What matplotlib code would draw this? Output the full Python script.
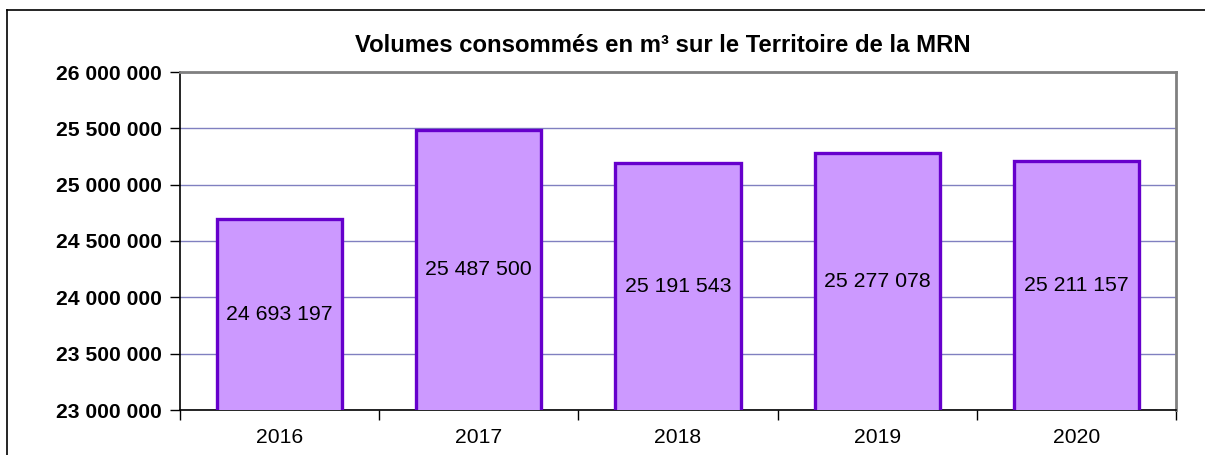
import matplotlib
matplotlib.use("Agg")
import matplotlib.pyplot as plt
from matplotlib.ticker import FuncFormatter, FixedLocator
from matplotlib.lines import Line2D

years = ["2016", "2017", "2018", "2019", "2020"]
volumes = [24693197, 25487500, 25191543, 25277078, 25211157]
y_ticks = [23000000, 23500000, 24000000, 24500000, 25000000, 25500000, 26000000]
title = "Volumes consommés en m³ sur le Territoire de la MRN"

plt.rcParams['font.family'] = ['Liberation Sans', 'DejaVu Sans']

W, H = 1205, 455
fig = plt.figure(figsize=(W / 100, H / 100), dpi=100)
ax = fig.add_axes([180 / W, 1 - 410 / H, (1176 - 180) / W, (410 - 72) / H])

def fmt(v):
    return f"{int(round(v)):,}".replace(",", " ")

x = list(range(len(years)))
ax.bar(x, volumes, width=0.628, bottom=0, color="#CC99FF", edgecolor="#6600CC",
       linewidth=2.4, zorder=3)
ax.set_ylim(y_ticks[0], y_ticks[-1])
ax.set_xlim(-0.5, len(years) - 0.5)

for xi, v in zip(x, volumes):
    ax.text(xi, (y_ticks[0] + v) / 2, fmt(v), ha="center", va="center",
            fontsize=15.3, color="black", zorder=4)

ax.set_yticks(y_ticks)
ax.yaxis.set_major_formatter(FuncFormatter(lambda v, p: fmt(v)))
for lbl in ax.get_yticklabels():
    lbl.set_fontweight("bold")
ax.tick_params(axis="y", labelsize=15.2, length=7, width=1, direction="out", pad=6)
ax.grid(axis="y", color="#8080C0", linewidth=1, zorder=1)

ax.set_xticks(x)
ax.set_xticklabels(years, fontsize=15.2)
ax.tick_params(axis="x", length=0, pad=13)
ax.xaxis.set_minor_locator(FixedLocator([i - 0.5 for i in range(len(years) + 1)]))
ax.tick_params(axis="x", which="minor", length=7, width=1, direction="out")

ax.spines["left"].set_color("black")
ax.spines["bottom"].set_color("black")
ax.spines["top"].set_color("#808080")
ax.spines["right"].set_color("#808080")
ax.spines["top"].set_linewidth(2)
ax.spines["right"].set_linewidth(2)
ax.spines["left"].set_linewidth(1.2)
ax.spines["bottom"].set_linewidth(1.2)

fig.text(663 / W, 1 - 45 / H, title, ha="center", va="center",
         fontsize=17.2, fontweight="bold")

# outer chart frame
fig.add_artist(Line2D([7 / W, 7 / W], [0, 1 - 10 / H], transform=fig.transFigure,
                      color="black", linewidth=1.2))
fig.add_artist(Line2D([7 / W, 1], [1 - 10 / H, 1 - 10 / H], transform=fig.transFigure,
                      color="black", linewidth=1.2))

fig.savefig("out.png", dpi=100)
